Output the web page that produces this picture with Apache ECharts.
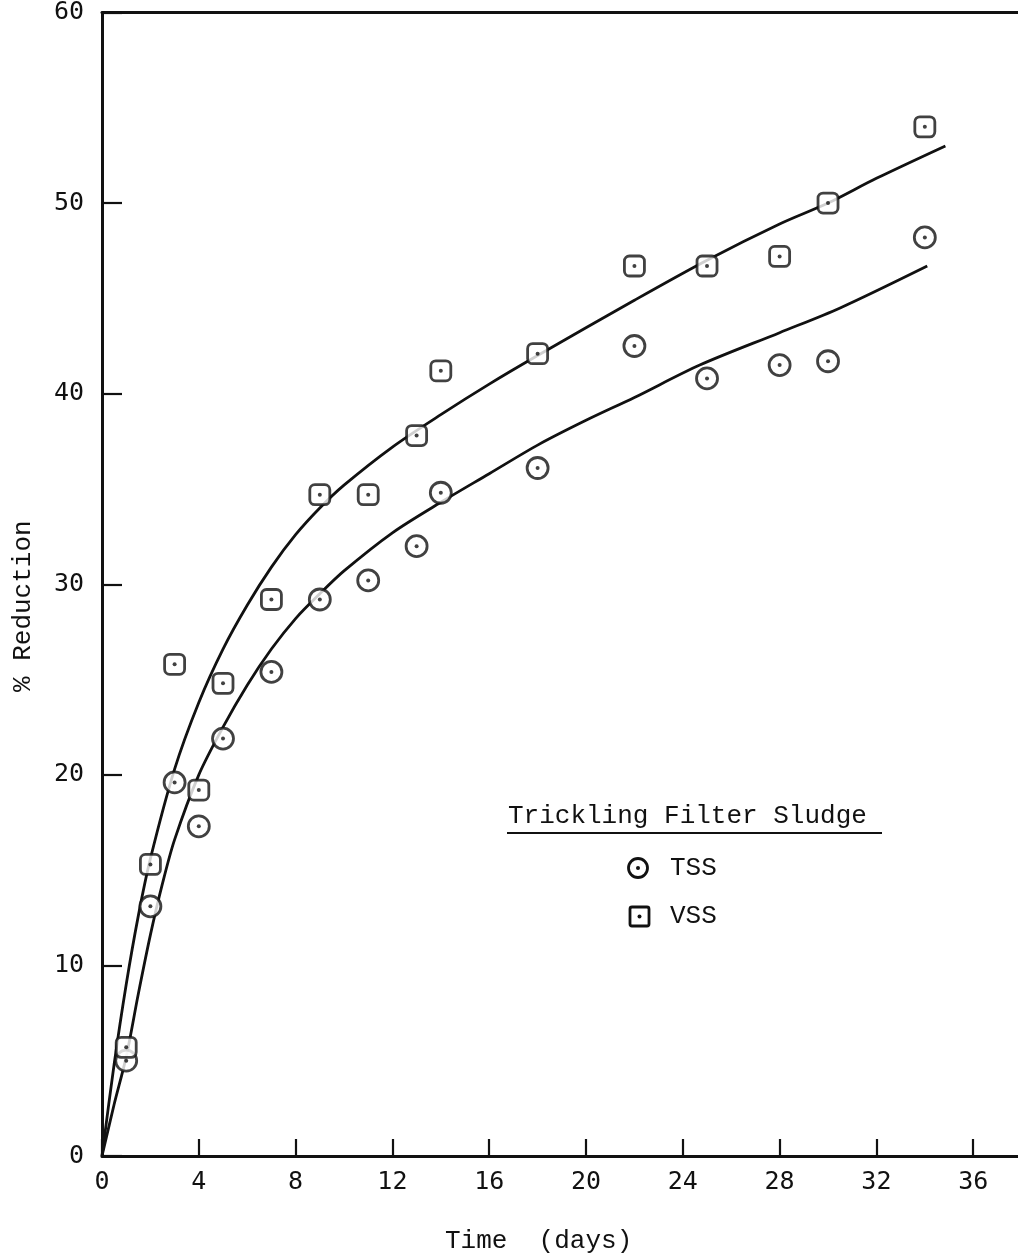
<!DOCTYPE html>
<html>
<head>
<meta charset="utf-8">
<script src="https://cdn.jsdelivr.net/npm/echarts@6/dist/echarts.min.js"></script>
<style>
  html, body { margin: 0; padding: 0; background: #fff; }
  #chart { width: 1018px; height: 1260px; }
</style>
</head>
<body>
<div id="chart"></div>
<script>
// Sampling days
const days = [1, 2, 3, 4, 5, 7, 9, 11, 13, 14, 18, 22, 25, 28, 30, 34];
// % reduction of total suspended solids
const tssValues = [5.0, 13.1, 19.6, 17.3, 21.9, 25.4, 29.2, 30.2, 32.0, 34.8, 36.1, 42.5, 40.8, 41.5, 41.7, 48.2];
// % reduction of volatile suspended solids
const vssValues = [5.7, 15.3, 25.8, 19.2, 24.8, 29.2, 34.7, 34.7, 37.8, 41.2, 42.1, 46.7, 46.7, 47.2, 50.0, 54.0];

// Fitted trend curves [day, % reduction]
const tssCurve = [[0, 0], [0.5, 2.7], [1, 5.2], [1.5, 8.5], [2, 11.6], [2.5, 14.3], [3, 16.6], [4, 20.0], [5, 22.5], [6, 24.7], [7, 26.6], [8, 28.2], [9, 29.5], [10, 30.7], [12, 32.7], [14, 34.3], [16, 35.8], [18, 37.3], [20, 38.6], [22, 39.8], [24.7, 41.5], [28, 43.2], [30.5, 44.5], [34.1, 46.7]];
const vssCurve = [[0, 0], [0.5, 4.8], [1, 9.0], [1.5, 12.6], [2, 15.6], [3, 20.3], [4, 23.8], [5, 26.6], [6, 28.9], [7, 30.9], [8, 32.6], [9, 34.0], [10, 35.2], [12, 37.2], [14, 38.9], [16, 40.5], [18, 42.0], [22, 44.9], [25, 47.0], [28, 48.9], [30, 50.0], [32, 51.3], [34.85, 53.0]];

// Axis ticks
const xTicks = [0, 4, 8, 12, 16, 20, 24, 28, 32, 36];
const yTicks = [0, 10, 20, 30, 40, 50, 60];

const tssPoints = days.map((d, i) => [d, tssValues[i]]);
const vssPoints = days.map((d, i) => [d, vssValues[i]]);

const labelFont = 'DejaVu Sans Mono';
const textFont = 'Liberation Mono';
const ink = '#111';

const chart = echarts.init(document.getElementById('chart'), null, { renderer: 'canvas' });

const curveStyle = { color: ink, width: 2.8 };
const markerStyle = { color: '#fff', borderColor: ink, borderWidth: 2.8 };

const option = {
  backgroundColor: '#fff',
  animation: false,
  grid: { left: 102, top: 12, right: 0, bottom: 104 },
  xAxis: [{
    type: 'value',
    min: 0, max: 37.85, interval: 4,
    position: 'bottom',
    axisLine: { show: true, lineStyle: { color: ink, width: 3 } },
    axisTick: { show: true, inside: true, length: 17, lineStyle: { color: ink, width: 2.2 }, customValues: xTicks },
    axisLabel: { color: ink, fontFamily: labelFont, fontSize: 25, margin: 14, customValues: xTicks },
    splitLine: { show: false }
  }, {
    type: 'value',
    min: 0, max: 37.85,
    position: 'top',
    axisLine: { show: true, onZero: false, lineStyle: { color: ink, width: 3 } },
    axisTick: { show: false },
    axisLabel: { show: false },
    splitLine: { show: false }
  }],
  yAxis: {
    type: 'value',
    min: 0, max: 60, interval: 10,
    axisLine: { show: true, lineStyle: { color: ink, width: 3 } },
    axisTick: { show: true, inside: true, length: 20, lineStyle: { color: ink, width: 2.2 }, customValues: yTicks },
    axisLabel: { color: ink, fontFamily: labelFont, fontSize: 25, margin: 18, customValues: yTicks },
    splitLine: { show: false }
  },
  series: [
    {
      name: 'VSS fit', type: 'line', data: vssCurve, smooth: 0.3,
      showSymbol: false, lineStyle: curveStyle, z: 2
    },
    {
      name: 'TSS fit', type: 'line', data: tssCurve, smooth: 0.3,
      showSymbol: false, lineStyle: curveStyle, z: 2
    },
    {
      name: 'TSS', type: 'scatter', data: tssPoints, symbol: 'circle', symbolSize: 21,
      itemStyle: markerStyle, z: 3
    },
    {
      name: 'VSS', type: 'scatter', data: vssPoints, symbol: 'roundRect', symbolSize: 20,
      itemStyle: markerStyle, z: 3
    },
    {
      name: 'TSS centre', type: 'scatter', data: tssPoints, symbol: 'circle', symbolSize: 4,
      itemStyle: { color: ink }, z: 4
    },
    {
      name: 'VSS centre', type: 'scatter', data: vssPoints, symbol: 'circle', symbolSize: 4,
      itemStyle: { color: ink }, z: 4
    }
  ],
  graphic: [
    // axis titles
    {
      type: 'text', left: 445, top: 1228,
      style: { text: 'Time  (days)', font: '26px "' + textFont + '"', fill: ink }
    },
    {
      type: 'text', x: 10, y: 692, rotation: Math.PI / 2,
      style: { text: '% Reduction', font: '26px "' + textFont + '"', fill: ink }
    },
    // key
    {
      type: 'text', x: 508, y: 803,
      style: { text: 'Trickling Filter Sludge', font: '26px "' + textFont + '"', fill: ink }
    },
    {
      type: 'line', shape: { x1: 507, y1: 833, x2: 882, y2: 833 },
      style: { stroke: ink, lineWidth: 2.2 }
    },
    {
      type: 'circle', shape: { cx: 638, cy: 868, r: 9.5 },
      style: { fill: '#fff', stroke: ink, lineWidth: 2.8 }
    },
    { type: 'circle', shape: { cx: 638, cy: 868, r: 2 }, style: { fill: ink } },
    {
      type: 'text', x: 670, y: 855,
      style: { text: 'TSS', font: '26px "' + textFont + '"', fill: ink }
    },
    {
      type: 'rect', shape: { x: 630, y: 907, width: 19, height: 19, r: 2 },
      style: { fill: '#fff', stroke: ink, lineWidth: 2.8 }
    },
    { type: 'circle', shape: { cx: 639.5, cy: 916.5, r: 2 }, style: { fill: ink } },
    {
      type: 'text', x: 670, y: 903,
      style: { text: 'VSS', font: '26px "' + textFont + '"', fill: ink }
    }
  ]
};

chart.setOption(option);
</script>
</body>
</html>
